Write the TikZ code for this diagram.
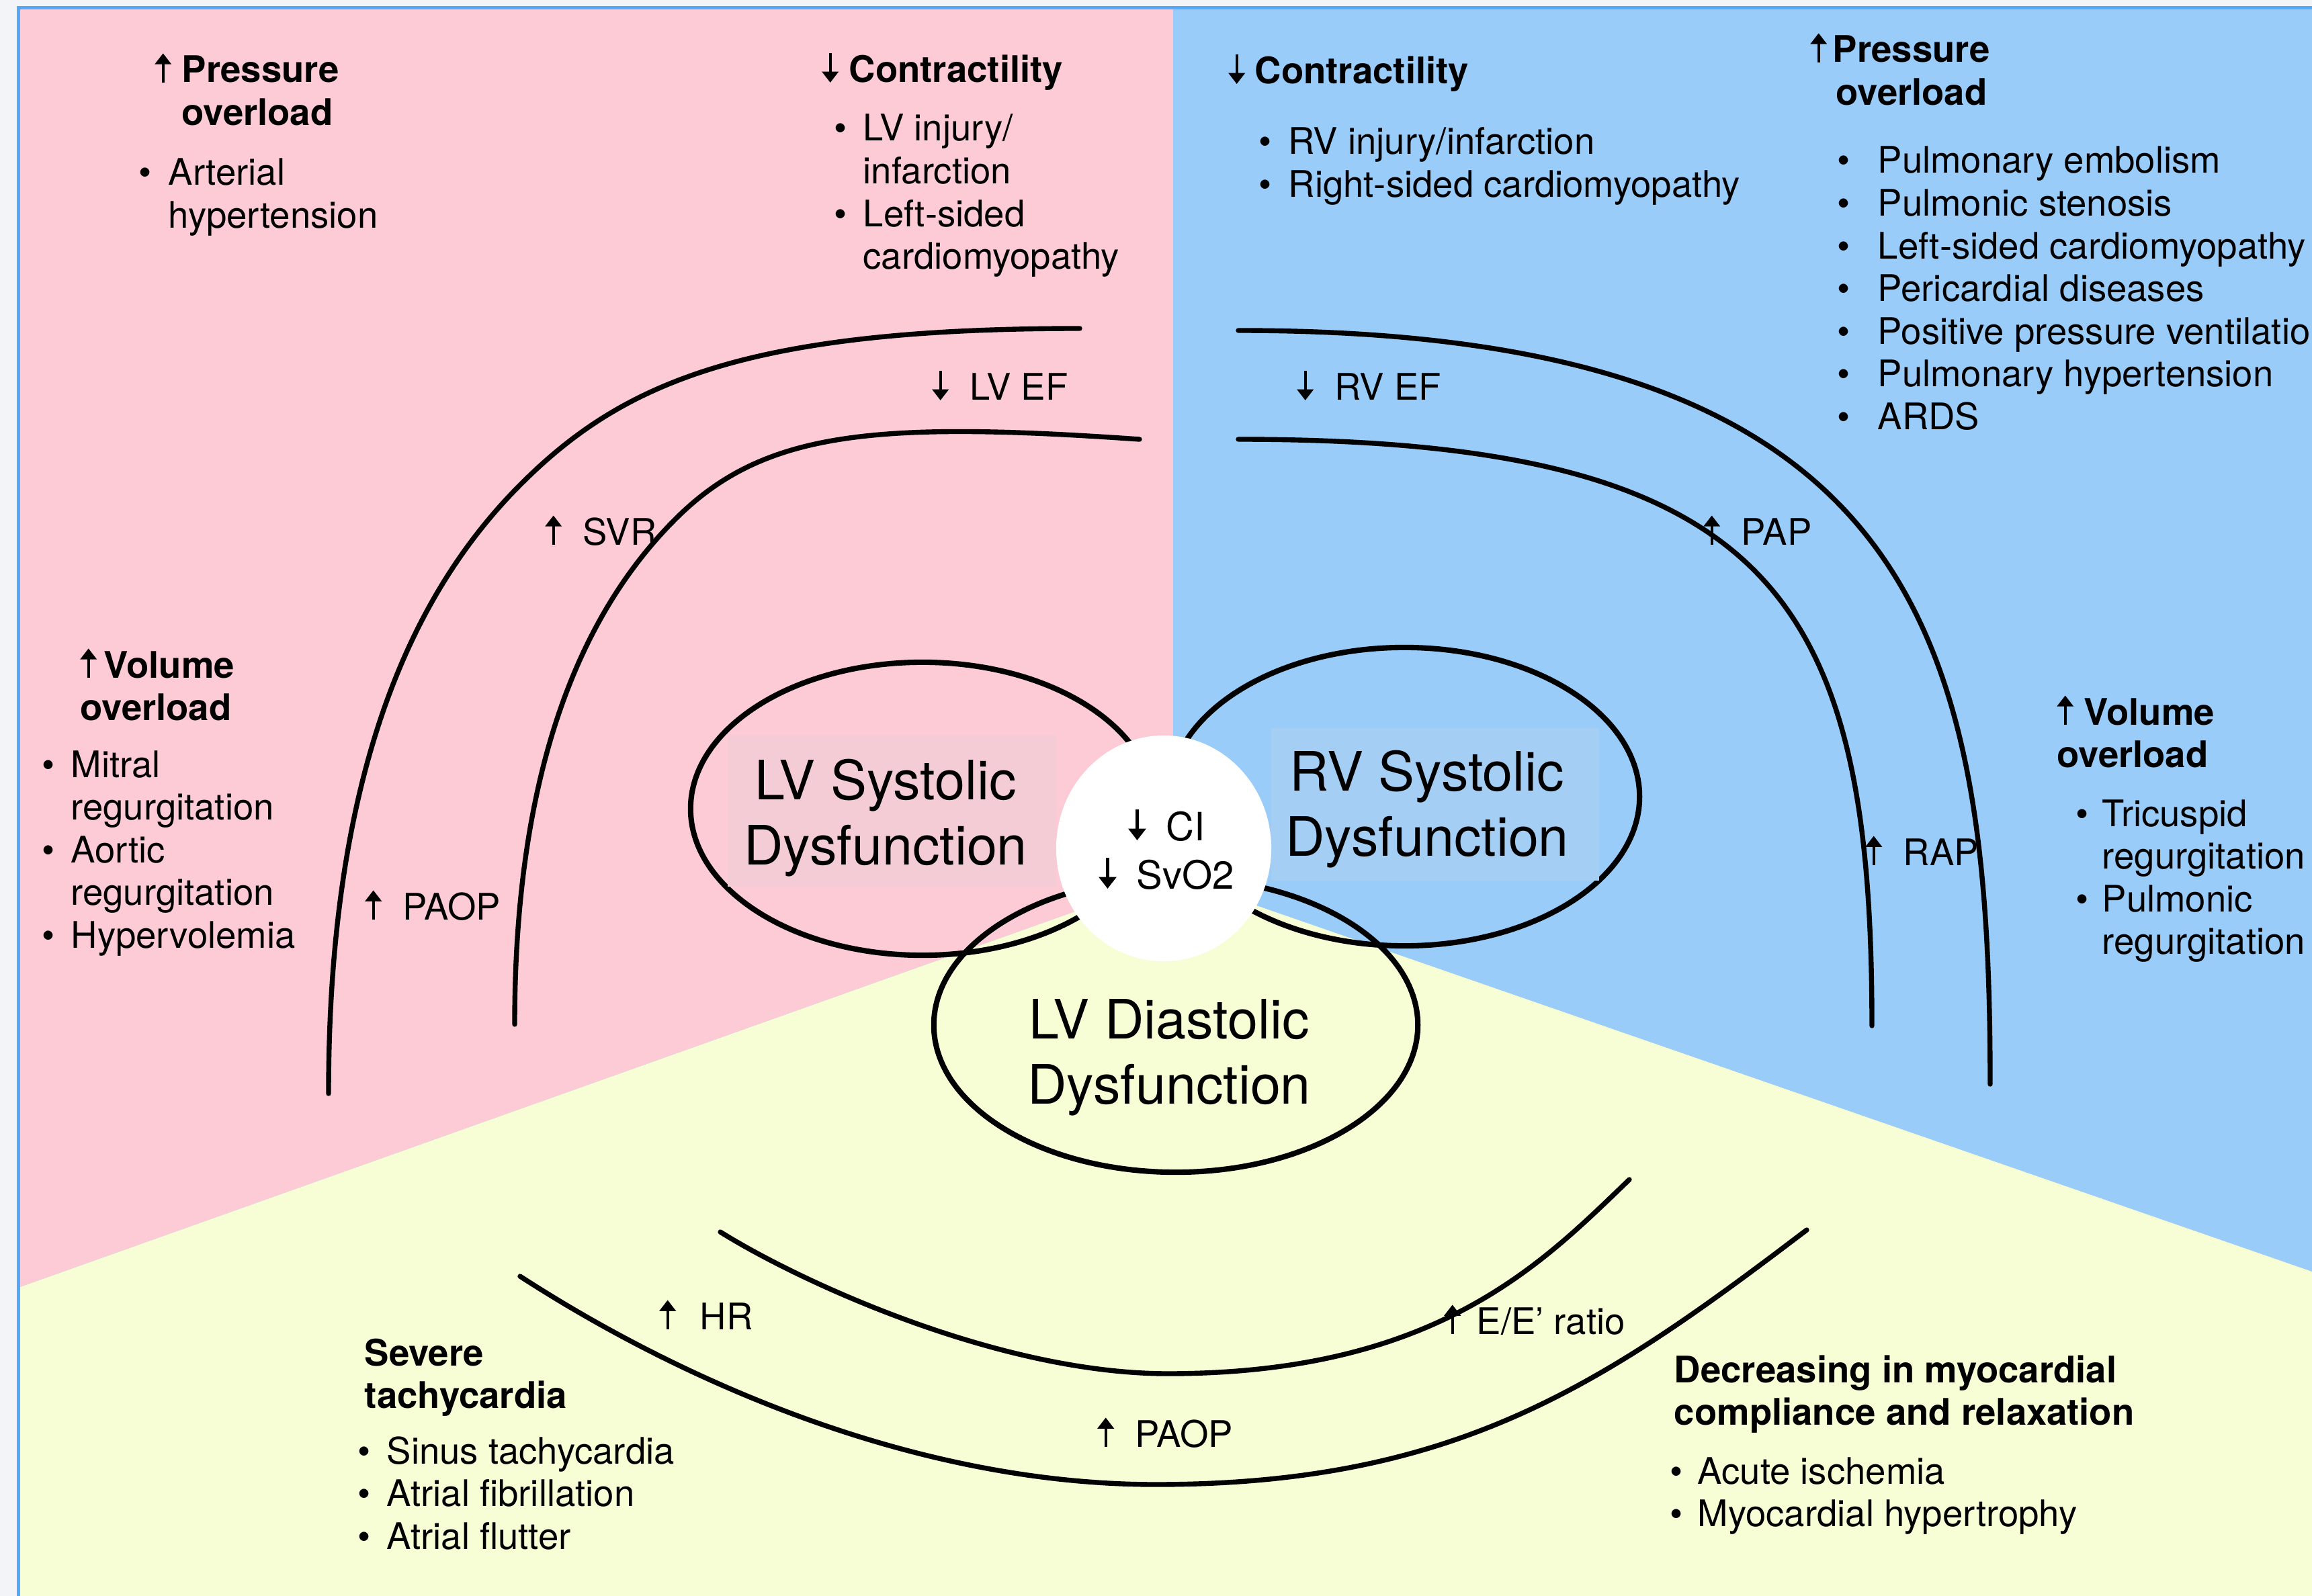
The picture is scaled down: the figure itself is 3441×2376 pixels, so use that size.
\documentclass[tikz,border=0pt]{standalone}
\usepackage{fontspec}
\setmainfont{TeX Gyre Heros}
\usetikzlibrary{arrows.meta}

\definecolor{pagebg}{HTML}{F2F4F8}
\definecolor{frameblue}{HTML}{55A8F8}
\definecolor{lvpink}{HTML}{FDCBD6}
\definecolor{rvblue}{HTML}{99CCF9}
\definecolor{diayellow}{HTML}{F7FED5}
\definecolor{lvbox}{HTML}{F3CCD5}
\definecolor{rvbox}{HTML}{A4CEF4}

% small up / down arrows set inline with the text
\newcommand\arrU{\tikz[baseline=0pt]\draw[line width=0.08em,-{Triangle[length=0.3em,width=0.44em]}] (0,0) -- (0,0.8em);}
\newcommand\arrD{\tikz[baseline=0pt]\draw[line width=0.08em,-{Triangle[length=0.3em,width=0.44em]}] (0,0.8em) -- (0,0);}
\newlength\bulw
\newcommand\itm[1]{\makebox[\bulw][l]{\textbullet}#1}
\newcommand\cnt[1]{\hspace*{\bulw}#1}
\newcommand\lab[2]{\makebox[0.56cm][l]{#1}#2}

\tikzset{
  lst/.style={font=\fontsize{15.5}{18.06}\selectfont, inner sep=0pt, anchor=base west},
  hdr/.style={lst, font=\fontsize{15.5}{18.06}\selectfont\bfseries},
  big/.style={font=\fontsize{23}{27.6}\selectfont, inner sep=0pt, anchor=base},
  ctr/.style={font=\fontsize{16.5}{19.8}\selectfont, inner sep=0pt, anchor=base west},
  curve/.style={line width=2.1pt, line cap=round},
  ring/.style={line width=2.3pt},
}

\begin{document}
\begin{tikzpicture}[x=0.01cm, y=-0.01cm]
\useasboundingbox (0,0) rectangle (3441,2376);
\clip (0,0) rectangle (3441,2376);

% page and frame
\fill[pagebg] (0,0) rectangle (3441,2376);
\fill[frameblue] (25,9) rectangle (3441,2376);

% three coloured sectors meeting at the hub
\coordinate (hub) at (1746,1305);
\coordinate (tl) at (30,14);
\coordinate (tm) at (1746,14);
\coordinate (tr) at (3441,14);
\coordinate (ml) at (30,1916);
\coordinate (mr) at (3441,1893);
\coordinate (bl) at (30,2376);
\coordinate (br) at (3441,2376);
\fill[lvpink] (tl) -- (tm) -- (hub) -- (ml) -- cycle;
\fill[rvblue] (tm) -- (tr) -- (mr) -- (hub) -- cycle;
\fill[diayellow] (ml) -- (hub) -- (mr) -- (br) -- (bl) -- cycle;

% LV arcs
\draw[curve] (1607,489) .. controls (1107,489) and (925,571) .. (775,721)
                        .. controls (625,871) and (489,1128) .. (489,1628);
\draw[curve] (1696,654) .. controls (1296,626) and (1135,643) .. (1005,773)
                        .. controls (875,903) and (766,1125) .. (766,1525);

% RV arcs
\draw[curve] (1843,492) .. controls (2850,492) and (2962,939) .. (2962,1614);
\draw[curve] (1843,654) .. controls (2640,654) and (2786,890) .. (2786,1527);

% diastolic arcs
\draw[curve] (1072,1834) .. controls (1192,1909) and (1488,2045) .. (1738,2045)
                         .. controls (2138,2045) and (2295,1881) .. (2425,1756);
\draw[curve] (774,1900) .. controls (1024,2062) and (1370,2210) .. (1720,2210)
                        .. controls (2170,2210) and (2389,2059) .. (2689,1831);

% dysfunction rings
\draw[ring] (1373,1204) ellipse [x radius=3.45cm, y radius=2.18cm];
\draw[ring] (2090,1186) ellipse [x radius=3.50cm, y radius=2.22cm];
\draw[ring] (1750,1526) ellipse [x radius=3.60cm, y radius=2.19cm];

% label plates
\fill[lvbox] (1083,1095) rectangle (1572,1320);
\fill[rvbox] (1892,1084) rectangle (2380,1311);

% central disc
\fill[white] (1732,1263) ellipse [x radius=1.60cm, y radius=1.68cm];

% ring titles
\node[big] (lvsysT) at (1318,1190) {\parbox[t]{5cm}{\centering LV Systolic\\Dysfunction}};
\node[big] (rvsysT) at (2124,1177) {\parbox[t]{5cm}{\centering RV Systolic\\Dysfunction}};
\node[big] (lvdiaT) at (1740,1546) {\parbox[t]{5cm}{\centering LV Diastolic\\Dysfunction}};

% central indices
\node[ctr] (ci) at (1679,1251) {\lab{\arrD}{CI}};
\node[ctr] (svo) at (1635,1323) {\lab{\arrD}{SvO2}};

% arc labels
\node[lst] (lvef) at (1387,596) {\lab{\arrD}{LV EF}};
\node[lst] (svr) at (811,811) {\lab{\arrU}{SVR}};
\node[lst] (paopL) at (543,1369) {\lab{\arrU}{PAOP}};
\node[lst] (rvef) at (1930,596) {\lab{\arrD}{RV EF}};
\node[lst] (pap) at (2535,811) {\lab{\arrU}{PAP}};
\node[lst] (rap) at (2776,1288) {\lab{\arrU}{RAP}};
\node[lst] (hr) at (981,1979) {\makebox[0.60cm][l]{\arrU}HR};
\node[lst] (eer) at (2149,1986) {\makebox[0.48cm][l]{\arrU}E/E’ ratio};
\node[lst] (paopB) at (1633,2154) {\lab{\arrU}{PAOP}};

% top left: pressure overload
\node[hdr] (tlHead) at (230,123) {\parbox[t]{5cm}{\makebox[0.40cm][l]{\arrU}Pressure\\\hspace*{0.40cm}overload}};
\node[lst] (tlList) at (206,276) {\setlength\bulw{0.44cm}\parbox[t]{6cm}{\itm{Arterial}\\\cnt{hypertension}}};

% top middle left: contractility
\node[hdr] (tpHead) at (1223,123) {\makebox[0.40cm][l]{\arrD}Contractility};
\node[lst] (tpList) at (1241,210) {\setlength\bulw{0.43cm}\parbox[t]{6cm}{\itm{LV injury/}\\\cnt{infarction}\\\itm{Left-sided}\\\cnt{cardiomyopathy}}};

% top middle right: contractility
\node[hdr] (tbHead) at (1828,125) {\makebox[0.39cm][l]{\arrD}Contractility};
\node[lst] (tbList) at (1873,230) {\setlength\bulw{0.44cm}\parbox[t]{8cm}{\itm{RV injury/infarction}\\\itm{Right-sided cardiomyopathy}}};

% top right: pressure overload
\node[hdr] (trHead) at (2694,93) {\parbox[t]{5cm}{\makebox[0.33cm][l]{\arrU}Pressure\\\hspace*{0.38cm}overload}};
\node[lst] (trList) at (2734,258) {\setlength\bulw{0.60cm}\parbox[t]{10cm}{\itm{Pulmonary embolism}\\\itm{Pulmonic stenosis}\\\itm{Left-sided cardiomyopathy}\\\itm{Pericardial diseases}\\\itm{Positive pressure ventilation}\\\itm{Pulmonary hypertension}\\\itm{ARDS}}};

% middle left: volume overload
\node[hdr] (lmHead) at (119,1009) {\parbox[t]{5cm}{\makebox[0.35cm][l]{\arrU}Volume\\overload}};
\node[lst] (lmList) at (62,1157) {\setlength\bulw{0.43cm}\parbox[t]{6cm}{\itm{Mitral}\\\cnt{regurgitation}\\\itm{Aortic}\\\cnt{regurgitation}\\\itm{Hypervolemia}}};

% middle right: volume overload
\node[hdr] (rmHead) at (3061,1079) {\parbox[t]{5cm}{\makebox[0.40cm][l]{\arrU}Volume\\overload}};
\node[lst] (rmList) at (3089,1230) {\setlength\bulw{0.39cm}\parbox[t]{6cm}{\itm{Tricuspid}\\\cnt{regurgitation}\\\itm{Pulmonic}\\\cnt{regurgitation}}};

% bottom left: tachycardia
\node[hdr] (blHead) at (542,2033) {\parbox[t]{5cm}{Severe\\tachycardia}};
\node[lst] (blList) at (532,2179) {\setlength\bulw{0.43cm}\parbox[t]{6cm}{\itm{Sinus tachycardia}\\\itm{Atrial fibrillation}\\\itm{Atrial flutter}}};

% bottom right: compliance
\node[hdr] (brHead) at (2491,2058) {\parbox[t]{8cm}{Decreasing in myocardial\\compliance and relaxation}};
\node[lst] (brList) at (2485,2209) {\setlength\bulw{0.41cm}\parbox[t]{8cm}{\itm{Acute ischemia}\\\itm{Myocardial hypertrophy}}};
\end{tikzpicture}
\end{document}
